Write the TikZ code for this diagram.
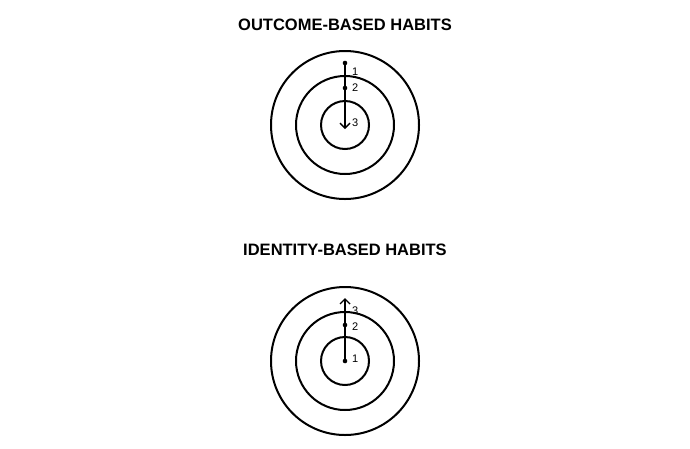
\documentclass[tikz,border=0pt]{standalone}
\usepackage{fontspec}
\setmainfont{Liberation Sans}
\usetikzlibrary{arrows.meta}

\tikzset{
  ring/.style={line width=2pt},
  spot/.style={circle,fill=black,inner sep=0pt,minimum size=4.6pt},
  stepnum/.style={font=\fontsize{11}{13}\selectfont,anchor=west,inner sep=0pt},
  headline/.style={font=\bfseries\fontsize{16.5}{18}\selectfont,inner sep=0pt},
  route/.style={line width=1.4pt,-{Straight Barb[length=5pt,width=10pt,line width=1.4pt]}}
}

\begin{document}
\begin{tikzpicture}[x=1pt,y=-1pt]
		\useasboundingbox (0,0) rectangle (690,448);
		
		%outcome-based
		\node[headline] (outcome) at (345,25) {OUTCOME-BASED HABITS};
		\draw[ring] (345,125) circle (74);
		\draw[ring] (345,125) circle (49);
		\draw[ring] (345,125) circle (24);
		
		\node[spot] (o1) at (345,63) {};
		\node[spot] (o2) at (345,88) {};
		\coordinate (o3) at (345,129);
		\draw[route] (o1.center) -- (o3);
		
		\node[stepnum] (lo1) at (352,72) {1};
		\node[stepnum] (lo2) at (352,88) {2};
		\node[stepnum] (lo3) at (352,123) {3};
		
		%identity-based
		\node[headline] (identity) at (345,250) {IDENTITY-BASED HABITS};
		\draw[ring] (345,361) circle (74);
		\draw[ring] (345,361) circle (49);
		\draw[ring] (345,361) circle (24);
		
		\node[spot] (i1) at (345,361) {};
		\node[spot] (i2) at (345,325) {};
		\coordinate (i3) at (345,298);
		\draw[route] (i1.center) -- (i3);
		
		\node[stepnum] (li1) at (352,359) {1};
		\node[stepnum] (li2) at (352,327) {2};
		\node[stepnum] (li3) at (352,311) {3};
		
\end{tikzpicture}
\end{document}
